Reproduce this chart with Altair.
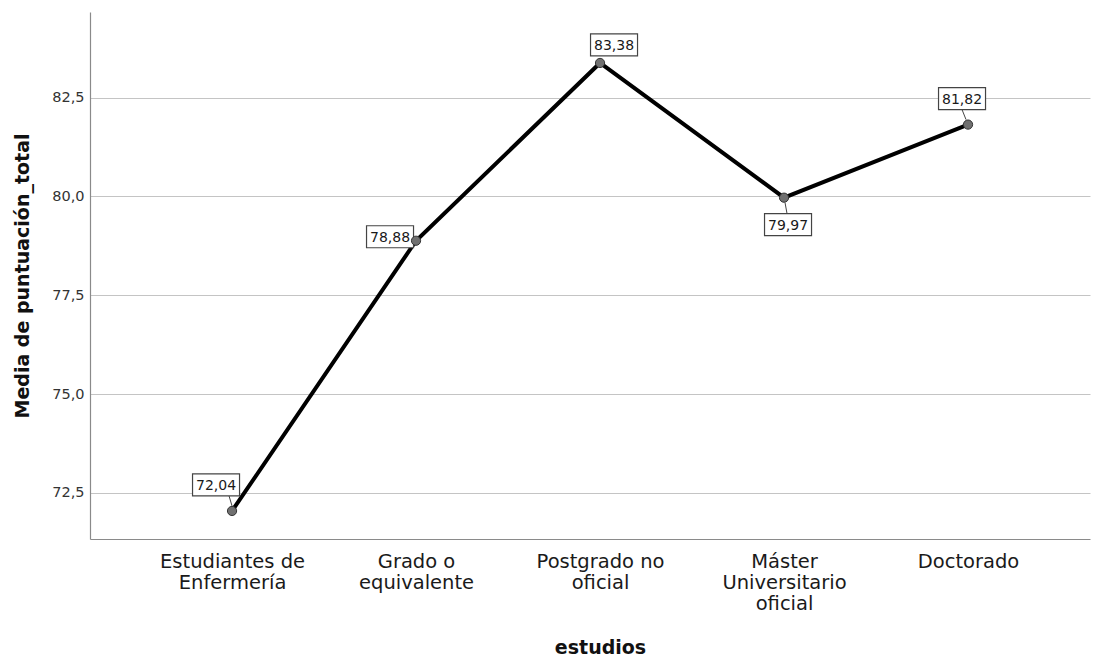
import altair as alt
import pandas as pd

# ---- data ----
categories = ["Estudiantes de\nEnfermería", "Grado o\nequivalente", "Postgrado no\noficial",
              "Máster\nUniversitario\noficial", "Doctorado"]
means = [72.04, 78.88, 83.38, 79.97, 81.82]
y_ticks = [72.5, 75.0, 77.5, 80.0, 82.5]

# ---- label layout (pixel offsets of each boxed value label from its point) ----
label_dx = [-16, -26, 14, 4, -6]
label_dy = [-26, -4, -18, 27, -26]
leaders = [(-3, -15, 0, -5), None, None, (1, 5, 3, 16), (-6, -15, -2, -5)]

df = pd.DataFrame({"idx": list(range(len(categories))), "estudios": categories, "media": means})

FONT = "DejaVu Sans"

x_enc = alt.X(
    "estudios:N",
    scale=alt.Scale(type="point", domain=categories, padding=0.7174, align=0.538),
    axis=alt.Axis(
        title="estudios", titleFont=FONT, titleFontSize=19, titleFontWeight="bold",
        titleColor="#111", titleX=510, titleY=114, titleBaseline="alphabetic", titleAlign="center",
        labelExpr="split(datum.label, '\\n')", labelAngle=0, labelFont=FONT, labelFontSize=19.5,
        labelLineHeight=21, labelPadding=13, labelColor="#1a1a1a", labelAlign="center",
        ticks=False, tickSize=0, grid=False, domainColor="#8a8a8a", domainWidth=1.2,
    ),
)
y_enc = alt.Y(
    "media:Q",
    scale=alt.Scale(domain=[71.33, 84.67], nice=False, zero=False),
    axis=alt.Axis(
        title="Media de puntuación_total", titleFont=FONT, titleFontSize=19, titleFontWeight="bold",
        titleColor="#111", titleAngle=270, titleX=-68, titleY=263.5, titleBaseline="middle",
        titleAlign="center",
        values=y_ticks, labelExpr="replace(format(datum.value, '.1f'), '.', ',')",
        labelFont=FONT, labelFontSize=14.5, labelColor="#333", labelPadding=6,
        ticks=False, tickSize=0, grid=True, gridColor="#c4c4c4", gridWidth=1,
        domainColor="#8a8a8a", domainWidth=1.2,
    ),
)

base = alt.Chart(df)
line = base.mark_line(color="black", strokeWidth=4).encode(x=x_enc, y=y_enc)
points = base.mark_point(filled=True, size=85, fill="#707070", stroke="#333333",
                         strokeWidth=1, opacity=1).encode(x=x_enc, y=y_enc)

layers = [line]
box_shape = "M-1,-0.468H1V0.468H-1Z"
for i in range(len(categories)):
    sub = base.transform_filter(alt.datum.idx == i).transform_calculate(
        lbl="replace(format(datum.media, '.2f'), '.', ',')")
    if leaders[i] is not None:
        a, b, c, d = leaders[i]
        layers.append(sub.mark_rule(color="#444444", strokeWidth=1, xOffset=a, yOffset=b,
                                    x2Offset=c, y2Offset=d).encode(
            x=x_enc, y=y_enc, x2=alt.X2("estudios:N"), y2=alt.Y2("media:Q")))
    layers.append(sub.mark_point(shape=box_shape, size=47 * 47, filled=True, fill="white",
                                 stroke="#444444", strokeWidth=1.2, opacity=1,
                                 xOffset=label_dx[i], yOffset=label_dy[i]).encode(x=x_enc, y=y_enc))
    layers.append(sub.mark_text(font=FONT, fontSize=14, color="#1a1a1a", align="center",
                                baseline="middle", dx=label_dx[i], dy=label_dy[i] + 1).encode(
        x=x_enc, y=y_enc, text="lbl:N"))
layers.append(points)

chart = alt.layer(*layers).properties(
    width=1000, height=527,
    background="white",
    autosize=alt.AutoSizeParams(type="none"),
    padding={"left": 82, "top": 4, "right": 6, "bottom": 120},
).configure_view(stroke=None, strokeWidth=0)

chart.save("out.html", embed_options={"renderer": "svg", "actions": False})
